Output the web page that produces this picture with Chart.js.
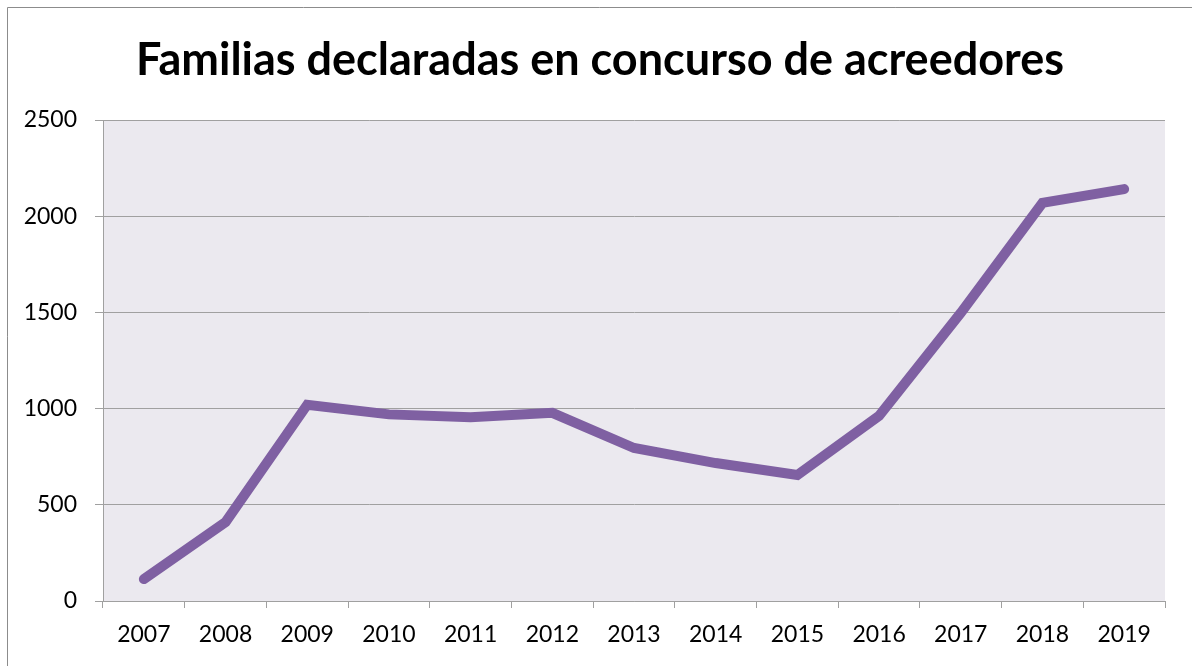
<!DOCTYPE html>
<html>
<head>
<meta charset="utf-8">
<script src="https://cdn.jsdelivr.net/npm/chart.js@4/dist/chart.umd.min.js"></script>
<style>
  html, body { margin: 0; padding: 0; background: #fff; }
  #wrap { width: 1192px; height: 666px; position: relative; }
</style>
</head>
<body>
<div id="wrap"><canvas id="chartFamilias" width="1192" height="666"></canvas></div>
<script>
// datos
const years = ['2007', '2008', '2009', '2010', '2011', '2012', '2013', '2014', '2015', '2016', '2017', '2018', '2019'];
const familias = [114, 410, 1020, 970, 955, 978, 795, 717, 655, 962, 1497, 2069, 2141];
const yTicks = [0, 500, 1000, 1500, 2000, 2500];

const lineColor = '#7f60a2';
const gridColor = '#a0a0a0';
const areaColor = '#ebe9ef';

// fondo del area de trazado + marco exterior
const framePlugin = {
  id: 'framePlugin',
  beforeDraw: (chart) => {
    const { ctx, chartArea } = chart;
    ctx.save();
    ctx.fillStyle = '#fff';
    ctx.fillRect(0, 0, chart.width, chart.height);
    ctx.fillStyle = areaColor;
    ctx.fillRect(chartArea.left, chartArea.top, chartArea.right - chartArea.left, chartArea.bottom - chartArea.top);
    ctx.strokeStyle = '#8c8c8c';
    ctx.lineWidth = 1;
    ctx.beginPath();
    ctx.moveTo(7.5, chart.height);
    ctx.lineTo(7.5, 7.5);
    ctx.lineTo(chart.width, 7.5);
    ctx.stroke();
    ctx.restore();
  },
};

const chartFamilias = new Chart(document.getElementById('chartFamilias'), {
  type: 'line',
  data: {
    labels: years,
    datasets: [
      {
        label: 'Familias',
        data: familias,
        borderColor: lineColor,
        backgroundColor: lineColor,
        borderWidth: 10,
        borderCapStyle: 'round',
        borderJoinStyle: 'miter',
        pointRadius: 0,
        tension: 0,
        yAxisID: 'y',
      },
    ],
  },
  options: {
    responsive: false,
    animation: false,
    layout: {
      padding: { top: 0, left: 8, right: 0, bottom: 0 },
    },
    plugins: {
      legend: { display: false },
      tooltip: { enabled: false },
      title: {
        display: true,
        text: 'Familias declaradas en concurso de acreedores',
        color: '#000',
        font: { family: 'Lato', size: 45, weight: 'bold', lineHeight: 1.2 },
        padding: { top: 33, bottom: 33 },
      },
    },
    scales: {
      x: {
        offset: true,
        grid: {
          offset: true,
          drawOnChartArea: false,
          drawTicks: true,
          tickLength: 7,
          color: gridColor,
        },
        border: { color: gridColor, width: 1 },
        ticks: {
          color: '#000',
          font: { family: 'Lato', size: 23 },
          padding: 13,
          maxRotation: 0,
          autoSkip: false,
        },
        afterFit: (scale) => { scale.height = 65; },
      },
      y: {
        position: 'left',
        min: 0,
        max: 2500,
        afterBuildTicks: (scale) => { scale.ticks = yTicks.map((v) => ({ value: v })); },
        grid: {
          color: gridColor,
          drawTicks: true,
          tickLength: 8,
        },
        border: { color: gridColor, width: 1 },
        ticks: {
          color: '#000',
          font: { family: 'Lato', size: 23 },
          padding: 18,
          callback: (value) => String(value),
        },
        afterFit: (scale) => { scale.width = 95; },
      },
      // eje vacio a la derecha: solo reserva el margen
      yRight: {
        position: 'right',
        display: true,
        min: 0,
        max: 2500,
        grid: { display: false },
        border: { display: false },
        ticks: { display: false },
        afterFit: (scale) => { scale.width = 27; },
      },
    },
  },
  plugins: [framePlugin],
});
</script>
</body>
</html>
